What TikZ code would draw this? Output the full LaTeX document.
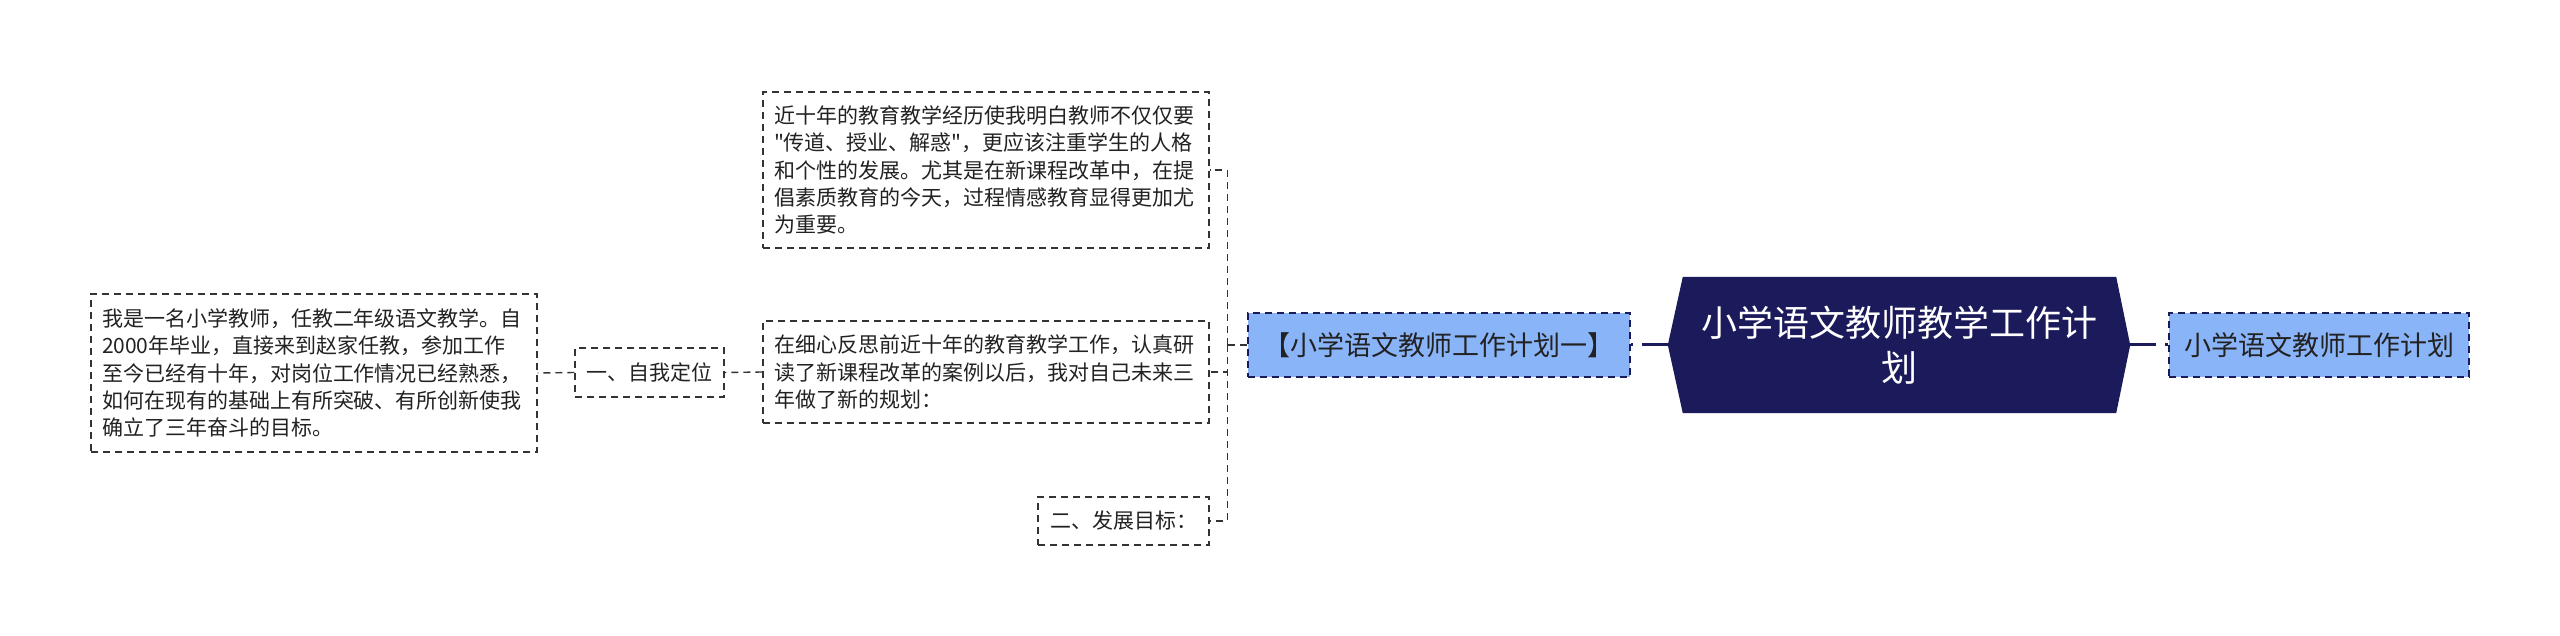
\documentclass[tikz,border=0pt]{standalone}
\usepackage{fontspec}
\setmainfont{Noto Sans CJK SC}[Ligatures=TeXOff]
\usetikzlibrary{calc}
\definecolor{navy}{HTML}{1B1A5A}
\definecolor{lblue}{HTML}{8AB4F8}
\definecolor{txt}{HTML}{222222}
\definecolor{bord}{HTML}{333333}
\pgfdeclarelayer{bg}
\pgfsetlayers{bg,main}
\begin{document}
\begin{tikzpicture}[x=1pt,y=-1pt,
  dsh/.style={dash pattern=on 7pt off 5pt},
  wbox/.style={draw=bord, dsh, line width=1.4pt, fill=white, inner xsep=11pt, inner ysep=0pt,
    font=\fontsize{21}{27.3}\selectfont, text=txt},
  tbox/.style={wbox, align=left, text width=#1},
  bbox/.style={draw=navy, dsh, line width=1.4pt, fill=lblue, inner sep=0pt,
    font=\fontsize{27}{33}\selectfont, text=txt, minimum height=64pt},
  conn/.style={draw=bord, dsh, line width=1.4pt},
  thick conn/.style={draw=navy, line width=3pt, dash pattern=on 26pt off 9pt on 10pt}]
\useasboundingbox (0,0) rectangle (2560,636);

% root
\node[font=\fontsize{36}{45}\selectfont, text=white, align=center, inner sep=0pt,
  minimum width=433pt, minimum height=136pt] (root) at (1899.5,345)
  {小学语文教师教学工作计\\划};
\coordinate (rootL) at ($(root.west)+(-15,0)$);
\coordinate (rootR) at ($(root.east)+(14,0)$);
\begin{pgfonlayer}{bg}
\fill[white] (0,0) rectangle (2560,636);
\fill[navy] (root.north west) -- (root.north east) -- (rootR) -- (root.south east)
  -- (root.south west) -- (rootL) -- cycle;
\end{pgfonlayer}

% first level
\node[bbox, minimum width=382pt] (k) at (1439,345) {【小学语文教师工作计划一】};
\node[bbox, minimum width=300pt] (rr) at (2319,345) {小学语文教师工作计划};

% second level
\node[tbox=424pt, minimum height=156pt] (top) at (986,170)
  {近十年的教育教学经历使我明白教师不仅仅要\\
   "传道、授业、解惑"，更应该注重学生的人格\\
   和个性的发展。尤其是在新课程改革中，在提\\
   倡素质教育的今天，过程情感教育显得更加尤\\
   为重要。};
\node[tbox=424pt, minimum height=102pt] (mid) at (986,372)
  {在细心反思前近十年的教育教学工作，认真研\\
   读了新课程改革的案例以后，我对自己未来三\\
   年做了新的规划：};
\node[wbox, minimum width=171pt, minimum height=48pt] (er) at (1123.5,521) {二、发展目标：};

% third level
\node[wbox, minimum width=149pt, minimum height=49pt] (one) at (649.5,372.5) {一、自我定位};
\node[tbox=424pt, minimum height=158pt] (lt) at (314,373)
  {我是一名小学教师，任教二年级语文教学。自\\
   2000年毕业，直接来到赵家任教，参加工作\\
   至今已经有十年，对岗位工作情况已经熟悉，\\
   如何在现有的基础上有所突破、有所创新使我\\
   确立了三年奋斗的目标。};

% connectors
\draw[thick conn] (rootL) -- (k.east);
\draw[thick conn] (rootR) -- (rr.west);
\draw[conn] (k.west) -- ++(-20,0) coordinate (j);
\draw[conn] (j) |- (top.east);
\draw[conn] (j) |- (mid.east);
\draw[conn] (j) |- (er.east);
\draw[conn] (mid.west) -- (one.east);
\draw[conn] (one.west) -- (lt.east);
\end{tikzpicture}
\end{document}
